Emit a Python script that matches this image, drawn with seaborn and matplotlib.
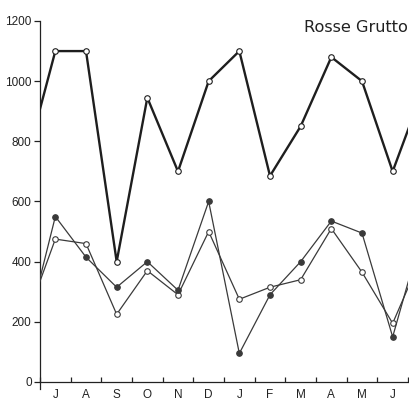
import matplotlib
matplotlib.use("Agg")
import matplotlib.pyplot as plt
import seaborn as sns
import numpy as np
import pandas as pd

# Months (July .. June), with the clipped neighbouring months at both ends
months = ['J', 'A', 'S', 'O', 'N', 'D', 'J', 'F', 'M', 'A', 'M', 'J']
top_series = [1100, 1100, 400, 945, 700, 1000, 1100, 685, 850, 1080, 1000, 700]
filled_series = [550, 415, 315, 400, 305, 600, 95, 290, 400, 535, 495, 150]
open_series = [475, 460, 225, 370, 290, 500, 275, 315, 340, 510, 365, 195]
# values of the month before and after (only partly visible, clipped by the axes)
top_edges = [715, 975]
filled_edges = [140, 510]
open_edges = [195, 430]
yticks = [0, 200, 400, 600, 800, 1000, 1200]
title = "Rosse Grutto"

sns.set_style("ticks")
plt.rcParams['font.family'] = ['Liberation Sans', 'DejaVu Sans']

fig = plt.figure(figsize=(4.1, 4.0), dpi=100)
ax = fig.add_axes([40 / 410, 11.4 / 400, 368 / 410, 367.6 / 400])

pos = np.arange(len(months))
xfull = np.concatenate([[-1], pos, [len(months)]])


def series_df(edges, vals):
    return pd.DataFrame({"x": xfull, "y": [edges[0]] + vals + [edges[1]]})


dark = "#1e1e1e"
mid = "#3a3a3a"

for edges, vals, lw, col, face, z in [
    (open_edges, open_series, 0.9, mid, "white", 3),
    (filled_edges, filled_series, 0.9, mid, mid, 4),
    (top_edges, top_series, 1.7, dark, "white", 5),
]:
    df = series_df(edges, vals)
    sns.lineplot(data=df, x="x", y="y", ax=ax, color=col, linewidth=lw,
                 marker="o", markersize=4, markerfacecolor=face,
                 markeredgecolor=col, markeredgewidth=0.8,
                 markevery=list(range(1, len(months) + 1)),
                 sort=False, estimator=None, zorder=z, clip_on=True)

ax.set_xlim(-0.5, len(months) - 0.5)
ax.set_ylim(-22, 1200)
ax.set_xlabel("")
ax.set_ylabel("")

ax.spines['right'].set_visible(False)
ax.spines['top'].set_visible(False)
ax.spines['bottom'].set_position(('data', 0))
for s in ['left', 'bottom']:
    ax.spines[s].set_linewidth(0.9)
    ax.spines[s].set_color("#222222")

ax.set_yticks(yticks)
ax.set_yticklabels([str(v) for v in yticks], fontsize=8.5, color="#222222")
ax.tick_params(axis='y', direction='out', length=4.5, width=0.9, pad=1.5, colors="#222222")

ax.set_xticks(pos)
ax.set_xticklabels(months, fontsize=8.5, color="#222222")
ax.tick_params(axis='x', which='major', length=0, pad=5)
ax.set_xticks(np.arange(-0.5, len(months)), minor=True)
ax.tick_params(axis='x', which='minor', direction='in', length=3.5, width=0.9, colors="#222222")

fig.text(0.995, 0.93, title, ha='right', va='center', fontsize=11.6,
         color="#222222", family=['DejaVu Sans'])

fig.savefig("out.png", dpi=100, facecolor="white")
